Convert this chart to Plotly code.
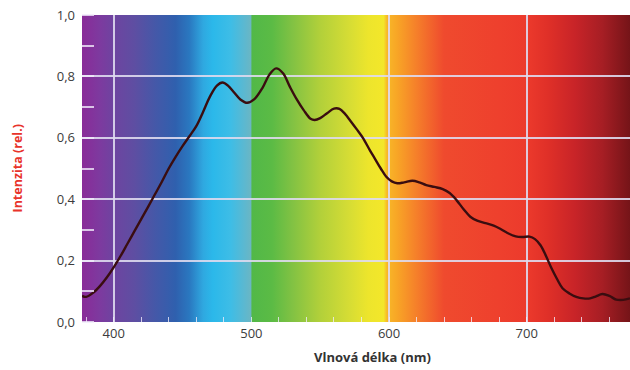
import base64
import plotly.graph_objects as go

# ---- data ----
WAVELENGTH = [377, 380, 385, 390, 395, 400, 405, 410, 415, 420, 425, 430, 435, 440, 445,
              450, 455, 460, 465, 470, 475, 479, 483, 487, 492, 497, 502, 508, 513, 518,
              523, 528, 533, 538, 543, 546, 550, 555, 560, 564, 568, 572, 577, 581, 586,
              590, 594, 598, 602, 606, 611, 617, 622, 627, 633, 639, 644, 649, 654, 659,
              664, 670, 676, 681, 686, 692, 697, 702, 706, 710, 714, 718, 722, 726, 731,
              736, 741, 746, 750, 755, 760, 765, 770, 775]
INTENSITY = [0.085, 0.082, 0.095, 0.117, 0.145, 0.178, 0.215, 0.255, 0.295, 0.335, 0.375,
             0.416, 0.457, 0.500, 0.538, 0.573, 0.605, 0.638, 0.685, 0.735, 0.770, 0.780,
             0.770, 0.750, 0.725, 0.714, 0.725, 0.762, 0.805, 0.826, 0.810, 0.766, 0.725,
             0.690, 0.662, 0.658, 0.664, 0.680, 0.695, 0.694, 0.678, 0.655, 0.625, 0.600,
             0.560, 0.530, 0.500, 0.473, 0.458, 0.452, 0.455, 0.460, 0.455, 0.446, 0.440,
             0.433, 0.420, 0.397, 0.368, 0.343, 0.330, 0.322, 0.314, 0.303, 0.290, 0.279,
             0.277, 0.278, 0.270, 0.250, 0.215, 0.175, 0.140, 0.110, 0.093, 0.082, 0.077,
             0.077, 0.083, 0.091, 0.085, 0.073, 0.072, 0.077]

X_RANGE = [377, 775]
Y_RANGE = [0, 1]
X_TICKS = [400, 500, 600, 700]
X_GRID = [400, 600, 700]
Y_TICKS = [0.0, 0.2, 0.4, 0.6, 0.8, 1.0]
X_TITLE = "Vlnová délka (nm)"
Y_TITLE = "Intenzita (rel.)"

# spectrum background colour stops (wavelength in nm -> colour)
GRAD_NM = [377, 390, 400, 415, 430, 445, 455, 465, 472, 485, 495, 499.5, 500.5, 515,
           530, 550, 570, 585, 596, 598.5, 606, 620, 640, 680, 700, 715, 735, 755, 775]
GRAD_COLORS = ["#8a2b98", "#7d3a9f", "#6e44a0", "#5e4ea2", "#4558a8", "#2f60ae", "#2a78c0",
               "#2fa8e0", "#2bb8ea", "#3ebde6", "#5cb8d0", "#6ab6c4", "#52b848", "#5bbb45",
               "#82c243", "#b2d03a", "#d4dc35", "#ede52c", "#f3e72a", "#f8b828", "#f8a526",
               "#f57f2a", "#ef4a2e", "#ee402d", "#ec3a2c", "#e03028", "#c82428", "#a61e24",
               "#751418"]

# ---- background gradient as svg image ----
span = X_RANGE[1] - X_RANGE[0]
stops = "".join(
    f'<stop offset="{(nm - X_RANGE[0]) / span:.4f}" stop-color="{c}"/>'
    for nm, c in zip(GRAD_NM, GRAD_COLORS)
)
svg = (
    '<svg xmlns="http://www.w3.org/2000/svg" width="400" height="100" '
    'viewBox="0 0 400 100" preserveAspectRatio="none">'
    f'<defs><linearGradient id="g" x1="0" y1="0" x2="1" y2="0">{stops}</linearGradient></defs>'
    '<rect x="0" y="0" width="400" height="100" fill="url(#g)"/></svg>'
)
svg_uri = "data:image/svg+xml;base64," + base64.b64encode(svg.encode()).decode()

fig = go.Figure()

# trace holding the vertical grid axis
fig.add_trace(go.Scatter(x=X_GRID, y=[None] * len(X_GRID), xaxis="x2", yaxis="y",
                         mode="lines", showlegend=False, hoverinfo="skip"))

fig.add_trace(go.Scatter(
    x=WAVELENGTH, y=INTENSITY, mode="lines",
    line=dict(color="#3a0d10", width=2.4, shape="spline", smoothing=1.0),
    showlegend=False,
))

fig.add_layout_image(dict(
    source=svg_uri, xref="x", yref="y", x=X_RANGE[0], y=Y_RANGE[1],
    sizex=span, sizey=Y_RANGE[1] - Y_RANGE[0], xanchor="left", yanchor="top",
    sizing="stretch", layer="below",
))

tick_font = dict(family="Open Sans", size=13, color="#3c3c3c")
grid_col = "rgba(222,218,238,0.9)"

fig.update_layout(
    width=630, height=370,
    margin=dict(l=82, r=0, t=15, b=48),
    paper_bgcolor="white", plot_bgcolor="white",
    separators=", ",
    xaxis=dict(
        range=X_RANGE, tickvals=X_TICKS, showgrid=False, zeroline=False,
        ticks="", tickfont=tick_font, ticklabelstandoff=2,
        minor=dict(dtick=20, tick0=0, ticks="inside", ticklen=5,
                   tickcolor="rgba(240,235,250,0.8)", tickwidth=1, showgrid=False),
        showline=False,
    ),
    xaxis2=dict(
        overlaying="x", matches="x", range=X_RANGE, tickvals=X_GRID, showgrid=True,
        gridcolor=grid_col, gridwidth=1.5, showticklabels=False, ticks="",
        zeroline=False, side="bottom",
    ),
    yaxis=dict(
        range=Y_RANGE, tickvals=Y_TICKS, tickformat=".1f", showgrid=True,
        gridcolor=grid_col, gridwidth=1.5, zeroline=False, ticks="",
        tickfont=tick_font, ticklabelstandoff=6,
        minor=dict(dtick=0.1, tick0=0, ticks="inside", ticklen=12,
                   tickcolor="rgba(240,235,250,0.8)", tickwidth=1.5, showgrid=False),
    ),
    annotations=[
        dict(text=f"<b>{X_TITLE}</b>", xref="paper", yref="paper",
             x=(372 - 82) / 548, y=-(357 - 322) / 307, xanchor="center", yanchor="middle",
             showarrow=False, font=dict(family="Open Sans", size=13, color="#333333")),
        dict(text=f"<b>{Y_TITLE}</b>", xref="paper", yref="paper", textangle=-90,
             x=-(82 - 17) / 548, y=0.5, xanchor="center", yanchor="middle",
             showarrow=False, font=dict(family="Open Sans", size=12.5, color="#e8332a")),
    ],
)

fig.write_html("out.html")
